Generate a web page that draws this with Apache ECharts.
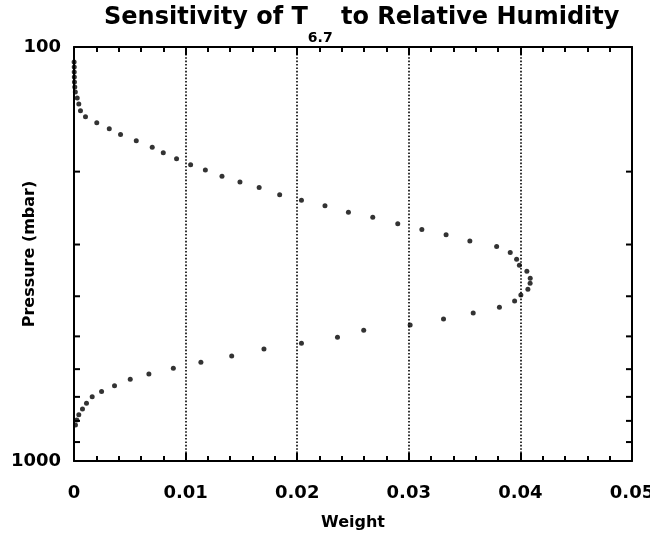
<!DOCTYPE html>
<html>
<head>
<meta charset="utf-8">
<script src="https://cdn.jsdelivr.net/npm/echarts@6/dist/echarts.min.js"></script>
<style>
  html, body { margin: 0; padding: 0; background: #fff; }
  #chart { width: 650px; height: 536px; }
</style>
</head>
<body>
<div id="chart"></div>
<script>
// pressure levels (mbar) and weights
const pressures = [
  108.7, 111.8, 114.9, 118.2, 121.5, 124.9, 128.4, 132.8, 137.3, 142.5,
  147.4, 152.3, 157.6, 162.8, 168.4, 174.7, 180.0, 186.1, 192.4, 198.2,
  205.3, 211.9, 218.5, 227.4, 234.6, 241.7, 250.8, 257.8, 267.2, 275.9,
  284.2, 294.2, 303.3, 313.6, 325.7, 336.7, 348.2, 362.1, 372.3, 384.9,
  397.2, 410.7, 425.4, 439.1, 453.9, 469.3, 483.4, 502.5, 519.6, 536.4,
  557.7, 577.6, 597.2, 616.5, 634.9, 657.8, 679.4, 699.4, 725.5, 748.9,
  773.1, 796.2, 818.5
];
const weights = [
  0.00001, 0.00002, 0.00002, 0.00003, 0.00004, 0.00007, 0.00012, 0.00029, 0.00043, 0.00058,
  0.00103, 0.00204, 0.00316, 0.00417, 0.00558, 0.00701, 0.00800, 0.00919, 0.01045, 0.01177,
  0.01326, 0.01487, 0.01659, 0.01843, 0.02038, 0.02249, 0.02459, 0.02677, 0.02901, 0.03117,
  0.03334, 0.03547, 0.03787, 0.03909, 0.03966, 0.03991, 0.04058, 0.04088, 0.04087, 0.04067,
  0.04004, 0.03948, 0.03812, 0.03577, 0.03311, 0.03012, 0.02596, 0.02361, 0.02038, 0.01702,
  0.01413, 0.01137, 0.00890, 0.00671, 0.00504, 0.00363, 0.00247, 0.00163, 0.00112, 0.00076,
  0.00043, 0.00025, 0.00013
];
const pressureMinorTicks = [200, 300, 400, 500, 600, 700, 800, 900];
const weightTicks = [0, 0.01, 0.02, 0.03, 0.04, 0.05];

const font = 'DejaVu Sans';
const chart = echarts.init(document.getElementById('chart'));

const frameAxis = {
  axisLine: { show: true, onZero: false, lineStyle: { color: '#000', width: 2 } }
};

chart.setOption({
  animation: false,
  backgroundColor: '#fff',
  title: {
    left: 99,
    top: 1,
    text: '{a|Sensitivity of T}{b|6.7}{a| to Relative Humidity}',
    textStyle: {
      rich: {
        a: { fontFamily: font, fontWeight: 'bold', fontSize: 24, color: '#000', lineHeight: 28, verticalAlign: 'top' },
        b: { fontFamily: font, fontWeight: 'bold', fontSize: 14, color: '#000', lineHeight: 16, verticalAlign: 'top', padding: [25, 0, 0, 0] }
      }
    }
  },
  grid: { left: 74, right: 18, top: 47, bottom: 75, containLabel: false, outerBoundsMode: 'none' },
  xAxis: [
    {
      ...frameAxis,
      type: 'value',
      min: 0,
      max: 0.05,
      interval: 0.01,
      name: 'Weight',
      nameLocation: 'middle',
      nameGap: 54,
      nameMoveOverlap: false,
      nameTextStyle: { fontFamily: font, fontWeight: 'bold', fontSize: 16, color: '#000' },
      axisTick: { inside: true, length: 8, lineStyle: { color: '#000', width: 2 } },
      minorTick: { show: true, splitNumber: 5, length: 5, lineStyle: { color: '#000', width: 2 } },
      splitLine: { show: true, lineStyle: { color: '#000', width: 1.6, type: [1.6, 1.8] } },
      axisLabel: {
        margin: 23,
        fontFamily: font,
        fontWeight: 'bold',
        fontSize: 18,
        color: '#000',
        formatter: (v) => {
          const t = weightTicks.find((w) => Math.abs(w - v) < 1e-9);
          return t === undefined ? '' : String(t);
        }
      }
    },
    {
      ...frameAxis,
      type: 'value',
      position: 'top',
      min: 0,
      max: 0.05,
      interval: 0.01,
      axisTick: { inside: true, length: 8, lineStyle: { color: '#000', width: 2 } },
      minorTick: { show: true, splitNumber: 5, length: 5, lineStyle: { color: '#000', width: 2 } },
      splitLine: { show: false },
      axisLabel: { show: false }
    }
  ],
  yAxis: [
    {
      ...frameAxis,
      type: 'log',
      logBase: 10,
      min: 100,
      max: 1000,
      inverse: true,
      name: 'Pressure (mbar)',
      nameLocation: 'middle',
      nameGap: 36,
      nameMoveOverlap: false,
      nameTextStyle: { fontFamily: font, fontWeight: 'bold', fontSize: 16, color: '#000' },
      axisTick: { show: false },
      splitLine: { show: false },
      axisLabel: {
        margin: 13,
        fontFamily: font,
        fontWeight: 'bold',
        fontSize: 18,
        color: '#000',
        formatter: (v) => String(Math.round(v))
      }
    },
    {
      ...frameAxis,
      type: 'log',
      logBase: 10,
      position: 'right',
      min: 100,
      max: 1000,
      inverse: true,
      axisTick: { show: false },
      splitLine: { show: false },
      axisLabel: { show: false }
    }
  ],
  series: [
    {
      type: 'scatter',
      xAxisIndex: 0,
      yAxisIndex: 0,
      symbol: 'circle',
      symbolSize: 5,
      itemStyle: { color: '#000' },
      data: weights.map((w, i) => [w, pressures[i]]),
      z: 4
    },
    {
      // minor pressure ticks on the left and right frame
      type: 'custom',
      xAxisIndex: 0,
      yAxisIndex: 0,
      silent: true,
      clip: false,
      data: pressureMinorTicks.map((p) => [0, p]),
      encode: { x: 0, y: 1 },
      renderItem: (params, api) => {
        const p = api.value(1);
        const l = api.coord([0, p]);
        const r = api.coord([0.05, p]);
        const style = { stroke: '#000', lineWidth: 2 };
        return {
          type: 'group',
          children: [
            { type: 'line', shape: { x1: l[0], y1: l[1], x2: l[0] + 6, y2: l[1] }, style },
            { type: 'line', shape: { x1: r[0] - 6, y1: r[1], x2: r[0], y2: r[1] }, style }
          ]
        };
      },
      z: 3
    }
  ]
});
</script>
</body>
</html>
